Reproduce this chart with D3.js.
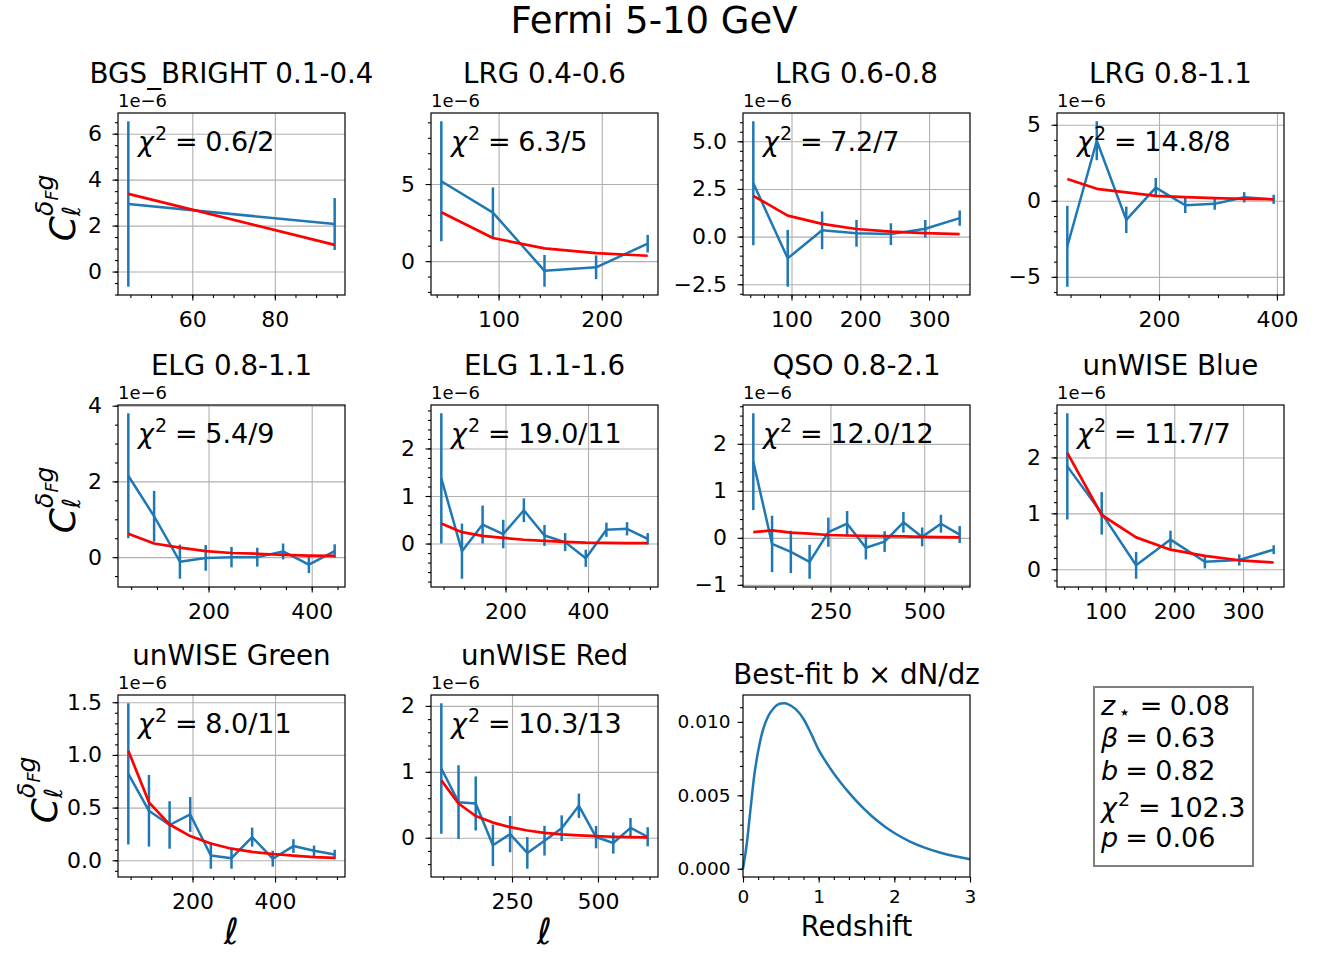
<!DOCTYPE html>
<html><head><meta charset="utf-8">
<script src="https://cdn.jsdelivr.net/npm/d3@7"></script>
<style>body{margin:0;background:#fff} svg{display:block} text{font-family:"DejaVu Sans",sans-serif}</style>
</head><body>
<svg id="fig" width="1321" height="956"></svg>
<script>
// ---------- data (cross-spectra in units of 1e-6) ----------
const ellCenters = [44.5, 94.5, 144.5, 194.5, 244.5, 294.5, 344.5, 394.5, 444.5, 494.5, 544.5, 594.5, 644.5];
const panelTitles = ["BGS_BRIGHT 0.1-0.4","LRG 0.4-0.6","LRG 0.6-0.8","LRG 0.8-1.1","ELG 0.8-1.1","ELG 1.1-1.6","QSO 0.8-2.1","unWISE Blue","unWISE Green","unWISE Red"];
const chi2Labels = ["0.6/2","6.3/5","7.2/7","14.8/8","5.4/9","19.0/11","12.0/12","11.7/7","8.0/11","10.3/13"];

const bgsData  = [2.94, 2.07];
const bgsErr   = [3.6, 1.13];
const bgsModel = [3.38, 1.16];

const lrg1Data  = [5.18, 3.15, -0.63, -0.40, 1.13];
const lrg1Err   = [3.89, 1.63, 1.03, 0.77, 0.57];
const lrg1Model = [3.17, 1.5, 0.83, 0.52, 0.35];

const lrg2Data  = [2.8, -1.14, 0.33, 0.17, 0.13, 0.41, 0.97];
const lrg2Err   = [3.25, 1.49, 0.99, 0.7, 0.57, 0.46, 0.4];
const lrg2Model = [2.14, 1.1, 0.67, 0.4, 0.26, 0.18, 0.13];

const lrg3Data  = [-2.99, 3.95, -1.25, 0.87, -0.29, -0.2, 0.23, 0.1];
const lrg3Err   = [2.66, 1.28, 0.87, 0.63, 0.52, 0.39, 0.34, 0.3];
const lrg3Model = [1.43, 0.79, 0.55, 0.33, 0.24, 0.18, 0.13, 0.1];

const elg1Data  = [2.15, 1.08, -0.12, -0.02, 0.0, 0.0, 0.15, -0.2, 0.16];
const elg1Err   = [1.65, 0.67, 0.45, 0.34, 0.27, 0.25, 0.21, 0.22, 0.18];
const elg1Model = [0.62, 0.36, 0.25, 0.16, 0.11, 0.09, 0.06, 0.04, 0.035];

const elg2Data  = [1.37, -0.16, 0.4, 0.2, 0.7, 0.17, 0.03, -0.31, 0.29, 0.31, 0.1];
const elg2Err   = [1.37, 0.58, 0.4, 0.3, 0.25, 0.22, 0.19, 0.18, 0.15, 0.14, 0.12];
const elg2Model = [0.42, 0.24, 0.16, 0.12, 0.08, 0.055, 0.035, 0.02, 0.015, 0.01, 0.008];

const qsoData  = [1.62, -0.13, -0.3, -0.51, 0.12, 0.3, -0.21, -0.08, 0.33, 0.02, 0.3, 0.07];
const qsoErr   = [1.03, 0.6, 0.45, 0.36, 0.31, 0.27, 0.25, 0.22, 0.22, 0.2, 0.19, 0.18];
const qsoModel = [0.12, 0.16, 0.11, 0.09, 0.06, 0.05, 0.04, 0.035, 0.03, 0.02, 0.015, 0.01];

const blueData  = [1.84, 1.0, 0.07, 0.53, 0.135, 0.165, 0.35];
const blueErr   = [0.95, 0.38, 0.24, 0.16, 0.12, 0.1, 0.08];
const blueModel = [2.08, 0.97, 0.57, 0.35, 0.24, 0.16, 0.12];

const greenData  = [0.82, 0.47, 0.335, 0.435, 0.045, 0.02, 0.22, 0.015, 0.135, 0.09, 0.055];
const greenErr   = [0.67, 0.34, 0.225, 0.165, 0.125, 0.1, 0.09, 0.075, 0.065, 0.05, 0.045];
const greenModel = [1.04, 0.55, 0.34, 0.23, 0.16, 0.11, 0.08, 0.06, 0.045, 0.03, 0.023];

const redData  = [1.05, 0.54, 0.52, -0.115, 0.055, -0.23, -0.045, 0.145, 0.485, 0.01, -0.08, 0.15, 0.015];
const redErr   = [0.99, 0.56, 0.41, 0.315, 0.275, 0.24, 0.225, 0.195, 0.185, 0.17, 0.16, 0.15, 0.145];
const redModel = [0.87, 0.52, 0.33, 0.23, 0.16, 0.11, 0.075, 0.05, 0.035, 0.025, 0.015, 0.01, 0.005];

// best-fit b x dN/dz
const redshiftGrid = [0, 0.05, 0.1, 0.15, 0.2, 0.25, 0.3, 0.35, 0.4, 0.45, 0.5, 0.55, 0.6, 0.7, 0.8, 0.9, 1.0, 1.1, 1.2, 1.3, 1.4, 1.5, 1.6, 1.7, 1.8, 1.9, 2.0, 2.2, 2.4, 2.6, 2.8, 3.0];
const bdndz = [0, 0.0017, 0.0041, 0.0064, 0.0080, 0.0092, 0.0100, 0.01055, 0.0109, 0.01115, 0.01126, 0.01127, 0.0112, 0.01085, 0.0102, 0.0092, 0.0081, 0.00725, 0.00649, 0.00581, 0.00518, 0.0046, 0.00407, 0.00359, 0.00316, 0.00277, 0.00243, 0.00187, 0.00144, 0.00111, 0.00085, 0.00065];

// tick labels / locations
const xMajorTicks = [[40,60,80,100],[100,200],[100,200,300],[200,400],[200,400],[200,400],[250,500],[100,200,300],[200,400],[250,500]];
const xMinorSteps = [5,20,20,50,50,50,50,20,50,50];
const yMajorTicks = [[0,2,4,6],[0,5],[-2.5,0,2.5,5],[-5,0,5],[0,2,4],[0,1,2],[-1,0,1,2],[0,1,2],[0,0.5,1,1.5],[0,1,2]];
const yMinorSteps = [0.5,1,0.5,1,0.5,0.2,0.2,0.2,0.1,0.2];
const yTickDecimals = [0,0,1,0,0,0,0,0,1,0];
const zTicks = [0,1,2,3];
const bdndzTicks = [0, 0.005, 0.010];
const fitParams = [["z","sub","⋆","0.08"],["β","","","0.63"],["b","","","0.82"],["χ","sup","2","102.3"],["p","","","0.06"]];

const panelData = [
  [bgsData,bgsErr,bgsModel],[lrg1Data,lrg1Err,lrg1Model],[lrg2Data,lrg2Err,lrg2Model],[lrg3Data,lrg3Err,lrg3Model],
  [elg1Data,elg1Err,elg1Model],[elg2Data,elg2Err,elg2Model],[qsoData,qsoErr,qsoModel],[blueData,blueErr,blueModel],
  [greenData,greenErr,greenModel],[redData,redErr,redModel]
];

// ---------- layout ----------
const W=1321,H=956;
const colLeft=[118,431,743,1057], rowTop=[113,405,695], axW=227, axH=182;
const BLUE="#1f77b4", RED="#ff0000", GRID="#b0b0b0";
const FONT='"DejaVu Sans", sans-serif';
const TICK_FS=22, TITLE_FS=27.7, EQ_FS=27;

const svg=d3.select("#fig");
svg.append("rect").attr("width",W).attr("height",H).attr("fill","#fff");
svg.append("text").attr("x",654).attr("y",33).attr("text-anchor","middle").attr("font-size",37).text("Fermi 5-10 GeV");

function minorTicks(domain, step){
  const a=Math.ceil(domain[0]/step-1e-9), b=Math.floor(domain[1]/step+1e-9);
  return d3.range(a,b+1).map(k=>+(k*step).toFixed(6));
}
function inDom(vals, d){ const lo=Math.min(d[0],d[1]), hi=Math.max(d[0],d[1]); return vals.filter(v=>v>=lo-1e-9&&v<=hi+1e-9); }
function styleAxis(s, fs){
  s.select(".domain").remove();
  s.attr("font-size",fs).attr("font-family",FONT);
  s.selectAll("line").attr("stroke","#000").attr("stroke-width",1.1);
  s.selectAll("text").attr("fill","#000");
}
function drawGrid(g,x,y,xm,ym){
  g.append("g").attr("transform",`translate(0,${axH})`)
    .call(d3.axisBottom(x).tickValues(xm).tickSize(-axH).tickFormat(""))
    .call(s=>{s.select(".domain").remove(); s.selectAll("line").attr("stroke",GRID).attr("stroke-width",1.1);});
  g.append("g")
    .call(d3.axisLeft(y).tickValues(ym).tickSize(-axW).tickFormat(""))
    .call(s=>{s.select(".domain").remove(); s.selectAll("line").attr("stroke",GRID).attr("stroke-width",1.1);});
}
function drawTicks(g,x,y,xm,xminor,ym,yminor,xfmt,yfmt,fs,xpad,ypad){
  g.append("g").attr("transform",`translate(0,${axH})`)
    .call(d3.axisBottom(x).tickValues(xminor).tickSize(3).tickFormat("")).call(s=>styleAxis(s,fs));
  g.append("g").attr("transform",`translate(0,${axH})`)
    .call(d3.axisBottom(x).tickValues(xm).tickSize(5.5).tickPadding(xpad).tickFormat(xfmt)).call(s=>styleAxis(s,fs));
  g.append("g")
    .call(d3.axisLeft(y).tickValues(yminor).tickSize(3).tickFormat("")).call(s=>styleAxis(s,fs));
  g.append("g")
    .call(d3.axisLeft(y).tickValues(ym).tickSize(5.5).tickPadding(ypad).tickFormat(yfmt)).call(s=>styleAxis(s,fs));
}
function frame(g){
  g.append("rect").attr("width",axW).attr("height",axH).attr("fill","none").attr("stroke","#000").attr("stroke-width",1.2);
}
// mathtext-like "sym^sup = value" / "sym_sub = value"
function mathEq(parent, x, y, sym, kind, script, value){
  const t=parent.append("text").attr("x",x).attr("y",y).attr("font-size",EQ_FS);
  t.append("tspan").attr("font-style","italic").text(sym);
  let back=0;
  if(kind==="sup"){ t.append("tspan").attr("font-size",19).attr("dx",1).attr("dy",-11).text(script); back=11; }
  if(kind==="sub"){ t.append("tspan").attr("font-size",20).attr("dx",3).attr("dy",4).text(script); back=-4; }
  t.append("tspan").attr("dx",kind==="sub"?9:(kind?8:7)).attr("dy",back).text("=");
  t.append("tspan").attr("dx",7.5).text(value);
  return t;
}
function ylabel(cx, cy){
  const t=svg.append("text").attr("transform",`translate(${cx},${cy}) rotate(-90)`)
    .attr("text-anchor","middle").attr("font-size",36).attr("font-style","italic");
  t.append("tspan").text("C");
  t.append("tspan").attr("font-size",25).attr("dy",5).text("ℓ");
  t.append("tspan").attr("font-size",25).attr("dx",-10).attr("dy",-27).text("δ");
  t.append("tspan").attr("font-size",17.5).attr("dy",5).text("F");
  t.append("tspan").attr("font-size",25).attr("dy",-5).text("g");
}

panelData.forEach((pd,i)=>{
  const [vals,errs,model]=pd;
  const r=Math.floor(i/4), c=i%4;
  const g=svg.append("g").attr("transform",`translate(${colLeft[c]},${rowTop[r]})`);
  const ls=ellCenters.slice(0,vals.length);
  const xe=d3.extent(ls), xmg=(xe[1]-xe[0])*0.05;
  const x=d3.scaleLinear().domain([xe[0]-xmg,xe[1]+xmg]).range([0,axW]);
  const lo=d3.min(vals.map((v,k)=>Math.min(v-errs[k],model[k])));
  const hi=d3.max(vals.map((v,k)=>Math.max(v+errs[k],model[k])));
  const ymg=(hi-lo)*0.05;
  const y=d3.scaleLinear().domain([lo-ymg,hi+ymg]).range([axH,0]);
  const xm=inDom(xMajorTicks[i],x.domain()), ym=inDom(yMajorTicks[i],y.domain());
  drawGrid(g,x,y,xm,ym);

  const pts=ls.map((l,k)=>({l,v:vals[k],e:errs[k],m:model[k]}));
  g.selectAll(".eb").data(pts).enter().append("line")
    .attr("x1",d=>x(d.l)).attr("x2",d=>x(d.l)).attr("y1",d=>y(d.v-d.e)).attr("y2",d=>y(d.v+d.e))
    .attr("stroke",BLUE).attr("stroke-width",2.5);
  g.append("path").datum(pts).attr("fill","none").attr("stroke",BLUE).attr("stroke-width",2.5).attr("stroke-linejoin","round")
    .attr("d",d3.line().x(d=>x(d.l)).y(d=>y(d.v)));
  g.append("path").datum(pts).attr("fill","none").attr("stroke",RED).attr("stroke-width",2.7).attr("stroke-linejoin","round")
    .attr("d",d3.line().x(d=>x(d.l)).y(d=>y(d.m)));

  frame(g);
  const yf=d3.format(`.${yTickDecimals[i]}f`);
  drawTicks(g,x,y,xm,minorTicks(x.domain(),xMinorSteps[i]),ym,minorTicks(y.domain(),yMinorSteps[i]),d3.format("d"),yf,TICK_FS,11,10.5);

  g.append("text").attr("x",0).attr("y",-6).attr("font-size",18).text("1e−6");
  mathEq(g, 20, 37.5, "χ", "sup", "2", chi2Labels[i]);
  g.append("text").attr("x",axW/2).attr("y",-30).attr("text-anchor","middle").attr("font-size",TITLE_FS).text(panelTitles[i]);
  if(r===2){
    g.append("text").attr("x",axW/2).attr("y",axH+67).attr("text-anchor","middle").attr("font-size",36).attr("font-style","italic").text("ℓ");
  }
});

ylabel(75, rowTop[0]+axH/2+4);
ylabel(75, rowTop[1]+axH/2+4);
ylabel(57, rowTop[2]+axH/2+4);

// best-fit panel
{
  const g=svg.append("g").attr("transform",`translate(${colLeft[2]},${rowTop[2]})`);
  const x=d3.scaleLinear().domain([0,3]).range([0,axW]);
  const ymax=d3.max(bdndz), ymin=d3.min(bdndz), m=(ymax-ymin)*0.05;
  const y=d3.scaleLinear().domain([ymin-m,ymax+m]).range([axH,0]);
  const pts=redshiftGrid.map((z,k)=>({z,v:bdndz[k]}));
  g.append("path").datum(pts).attr("fill","none").attr("stroke",BLUE).attr("stroke-width",2.5)
    .attr("d",d3.line().x(d=>x(d.z)).y(d=>y(d.v)).curve(d3.curveMonotoneX));
  frame(g);
  drawTicks(g,x,y,zTicks,minorTicks(x.domain(),0.2),bdndzTicks,minorTicks(y.domain(),0.001),d3.format("d"),d3.format(".3f"),18.5,7,7);
  g.append("text").attr("x",axW/2).attr("y",-11).attr("text-anchor","middle").attr("font-size",TITLE_FS).text("Best-fit b × dN/dz");
  g.append("text").attr("x",axW/2).attr("y",axH+59).attr("text-anchor","middle").attr("font-size",27.5).text("Redshift");
}

// parameter box
{
  const g=svg.append("g").attr("transform","translate(1094,687)");
  g.append("rect").attr("width",159).attr("height",179).attr("fill","#fff").attr("stroke","#7f7f7f").attr("stroke-width",2);
  const baselines=[28,60,93,130,160];
  fitParams.forEach((p,k)=>{ mathEq(g, 7, baselines[k], p[0], p[1], p[2], p[3]); });
}
</script>
</body></html>
